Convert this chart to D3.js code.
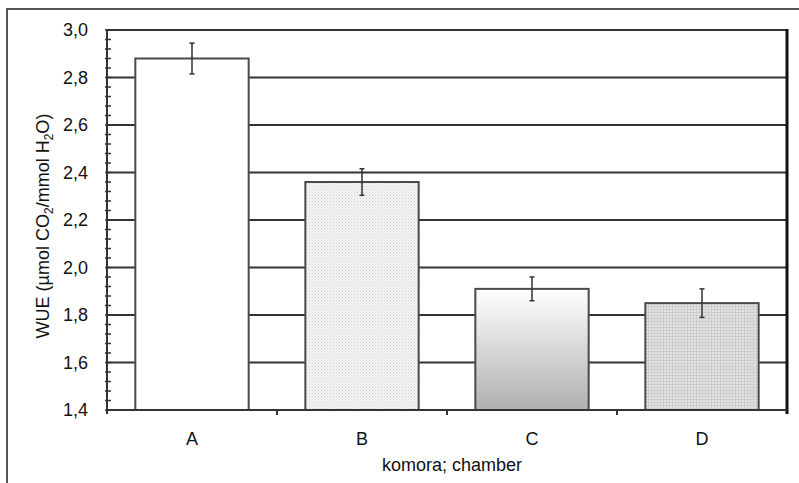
<!DOCTYPE html>
<html>
<head>
<meta charset="utf-8">
<script src="https://cdn.jsdelivr.net/npm/d3@7"></script>
<style>
  html, body { margin: 0; padding: 0; background: #fff; }
  svg { display: block; font-family: "Liberation Sans", Arial, sans-serif; }
</style>
</head>
<body>
<svg id="chart" width="799" height="483"></svg>
<script>
// Water-use efficiency per chamber
const categories = ["A", "B", "C", "D"];
const wue = [2.88, 2.36, 1.91, 1.85];
const wueError = [0.065, 0.056, 0.05, 0.06];
const yTickValues = [1.4, 1.6, 1.8, 2.0, 2.2, 2.4, 2.6, 2.8, 3.0];
const fills = ["#ffffff", "url(#dots)", "url(#shade)", "url(#mesh)"];

const svg = d3.select("#chart");
const plot = { left: 107, right: 787, top: 30, bottom: 410 };

const x = d3.scaleBand()
  .domain(categories)
  .range([plot.left, plot.right])
  .paddingInner(1 / 3)
  .paddingOuter(1 / 6);

const y = d3.scaleLinear()
  .domain([1.4, 3.0])
  .range([plot.bottom, plot.top]);

const fmt = v => d3.format(".1f")(v).replace(".", ",");

// Fill patterns
const defs = svg.append("defs");
const dots = defs.append("pattern").attr("id", "dots")
  .attr("width", 3).attr("height", 3).attr("patternUnits", "userSpaceOnUse");
dots.append("rect").attr("width", 3).attr("height", 3).attr("fill", "#f5f5f5");
dots.append("rect").attr("x", 0).attr("y", 0).attr("width", 1).attr("height", 1).attr("fill", "#cfcfcf");
dots.append("rect").attr("x", 1.5).attr("y", 1.5).attr("width", 1).attr("height", 1).attr("fill", "#dcdcdc");

const mesh = defs.append("pattern").attr("id", "mesh")
  .attr("width", 3).attr("height", 3).attr("patternUnits", "userSpaceOnUse");
mesh.append("rect").attr("width", 3).attr("height", 3).attr("fill", "#e4e4e4");
mesh.append("rect").attr("x", 0).attr("y", 0).attr("width", 3).attr("height", 1).attr("fill", "#cdcdcd");
mesh.append("rect").attr("x", 0).attr("y", 0).attr("width", 1).attr("height", 3).attr("fill", "#cdcdcd");

const shade = defs.append("linearGradient").attr("id", "shade")
  .attr("x1", 0).attr("y1", 0).attr("x2", 0).attr("y2", 1);
shade.append("stop").attr("offset", "0%").attr("stop-color", "#ffffff");
shade.append("stop").attr("offset", "100%").attr("stop-color", "#b0b0b0");

// Outer frame
svg.append("rect")
  .attr("x", 7).attr("y", 9).attr("width", 820).attr("height", 500)
  .attr("fill", "none").attr("stroke", "#555").attr("stroke-width", 2);

// Horizontal gridlines
svg.append("g").selectAll("line")
  .data(yTickValues.slice(1))
  .join("line")
  .attr("x1", plot.left).attr("x2", plot.right)
  .attr("y1", d => y(d)).attr("y2", d => y(d))
  .attr("stroke", "#333").attr("stroke-width", 2);

// Bars
svg.append("g").selectAll("rect")
  .data(categories)
  .join("rect")
  .attr("x", d => x(d))
  .attr("y", (d, i) => y(wue[i]))
  .attr("width", x.bandwidth())
  .attr("height", (d, i) => y(1.4) - y(wue[i]))
  .attr("fill", (d, i) => fills[i])
  .attr("stroke", "#4a4a4a").attr("stroke-width", 2);

// Error bars
const err = svg.append("g").attr("stroke", "#333").attr("stroke-width", 1.5);
categories.forEach((c, i) => {
  const cx = x(c) + x.bandwidth() / 2;
  const lo = y(wue[i] - wueError[i]);
  const hi = y(wue[i] + wueError[i]);
  err.append("line").attr("x1", cx).attr("x2", cx).attr("y1", hi).attr("y2", lo);
  err.append("line").attr("x1", cx - 2.5).attr("x2", cx + 2.5).attr("y1", hi).attr("y2", hi);
  err.append("line").attr("x1", cx - 2.5).attr("x2", cx + 2.5).attr("y1", lo).attr("y2", lo);
});

// Right plot border
svg.append("line")
  .attr("x1", plot.right).attr("x2", plot.right)
  .attr("y1", plot.top - 1).attr("y2", plot.bottom + 4)
  .attr("stroke", "#111").attr("stroke-width", 3);

// Y axis with minor ticks pointing inward
const minorTicks = d3.range(1.4, 3.0001, 0.04);
const yAxis = svg.append("g");
yAxis.append("line")
  .attr("x1", plot.left).attr("x2", plot.left)
  .attr("y1", plot.top - 1).attr("y2", plot.bottom + 4)
  .attr("stroke", "#333").attr("stroke-width", 2);
yAxis.selectAll("line.minor")
  .data(minorTicks)
  .join("line").attr("class", "minor")
  .attr("x1", plot.left - 2).attr("x2", plot.left + 4)
  .attr("y1", d => y(d)).attr("y2", d => y(d))
  .attr("stroke", "#333").attr("stroke-width", 1.5);
yAxis.selectAll("text")
  .data(yTickValues)
  .join("text")
  .attr("x", 88).attr("y", d => y(d))
  .attr("dy", "0.35em")
  .attr("text-anchor", "end")
  .attr("font-size", 18)
  .attr("fill", "#111")
  .text(fmt);

// X axis
const xAxis = svg.append("g");
xAxis.append("line")
  .attr("x1", plot.left - 1).attr("x2", plot.right)
  .attr("y1", plot.bottom).attr("y2", plot.bottom)
  .attr("stroke", "#333").attr("stroke-width", 2);
const boundaries = categories.slice(1).map(c => x(c) - x.step() * x.paddingInner() / 2);
xAxis.selectAll("line.tick")
  .data(boundaries)
  .join("line").attr("class", "tick")
  .attr("x1", d => d).attr("x2", d => d)
  .attr("y1", plot.bottom).attr("y2", plot.bottom + 5)
  .attr("stroke", "#333").attr("stroke-width", 2);
xAxis.selectAll("text")
  .data(categories)
  .join("text")
  .attr("x", d => x(d) + x.bandwidth() / 2)
  .attr("y", 445)
  .attr("text-anchor", "middle")
  .attr("font-size", 18)
  .attr("fill", "#111")
  .text(d => d);

// Axis titles
svg.append("text")
  .attr("x", plot.left + (plot.right - plot.left) / 2 + 5)
  .attr("y", 471)
  .attr("text-anchor", "middle")
  .attr("font-size", 18)
  .attr("fill", "#111")
  .text("komora; chamber");

const yTitle = svg.append("text")
  .attr("transform", "translate(49,226) rotate(-90)")
  .attr("text-anchor", "middle")
  .attr("font-size", 18)
  .attr("fill", "#111");
yTitle.append("tspan").text("WUE (µmol CO");
yTitle.append("tspan").attr("font-size", 12).attr("dy", 4).text("2");
yTitle.append("tspan").attr("dy", -4).text("/mmol H");
yTitle.append("tspan").attr("font-size", 12).attr("dy", 4).text("2");
yTitle.append("tspan").attr("dy", -4).text("O)");
</script>
</body>
</html>
